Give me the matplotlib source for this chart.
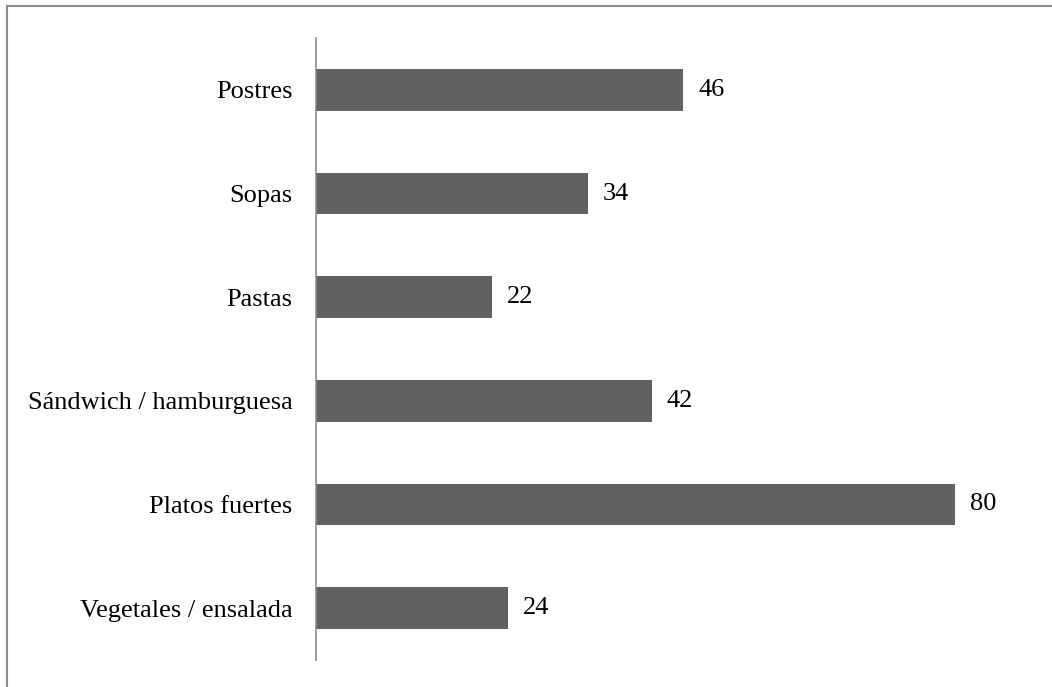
import matplotlib.pyplot as plt
from matplotlib.patches import Rectangle

categories = ["Vegetales / ensalada", "Platos fuertes", "Sándwich / hamburguesa",
              "Pastas", "Sopas", "Postres"]
values = [24, 80, 42, 22, 34, 46]

plt.rcParams['font.family'] = ['Liberation Serif', 'DejaVu Serif']

W, H = 1052, 687
fig = plt.figure(figsize=(W / 100, H / 100), dpi=100)
ax = fig.add_axes([316 / W, 27 / H, (1035 - 316) / W, (660 - 38) / H])

pos = range(len(categories))
bars = ax.barh(pos, values, height=0.4, color='#626262')
ax.set_ylim(-0.5, len(categories) - 0.5)
ax.set_xlim(0, 90)
ax.set_yticks(list(pos))
ax.set_yticklabels(categories, fontsize=19)
ax.tick_params(axis='y', length=0, pad=17)
ax.set_xticks([])
for side in ['top', 'right', 'bottom']:
    ax.spines[side].set_visible(False)
ax.spines['left'].set_color('#8c8c8c')
ax.spines['left'].set_linewidth(1.2)

ax.bar_label(bars, labels=[str(v) for v in values], padding=11, fontsize=19)

# outer frame, open on the right and bottom
fig.add_artist(Rectangle((7 / W, -0.1), 1.2, (H - 6) / H + 0.1, transform=fig.transFigure,
                         fill=False, edgecolor='#8c8c8c', linewidth=1.5))

fig.savefig('out.png', dpi=100)
